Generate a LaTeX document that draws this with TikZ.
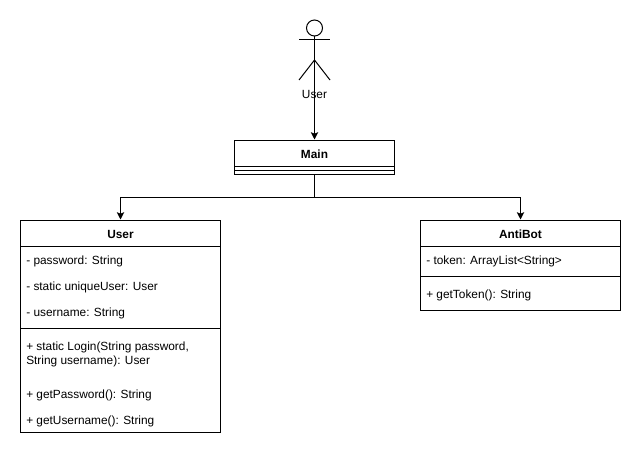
\documentclass[tikz,border=0pt]{standalone}
\usepackage{fontspec}
\setmainfont{Liberation Sans}
\usetikzlibrary{arrows.meta}
\tikzset{
  classpart/.style={draw,line width=0.75pt,inner sep=0pt,minimum width=150pt},
  classrow/.style={anchor=west,inner sep=0pt,text height=9.5pt,text depth=2pt},
  classname/.style={inner sep=0pt,font=\fontsize{8.9pt}{10.5pt}\selectfont\bfseries,text height=9.5pt,text depth=2pt},
  connector/.style={line width=0.75pt,-{Stealth[length=5.5pt,width=5.5pt,inset=1.2pt]}},
}
\begin{document}
\begin{tikzpicture}[x=0.75pt,y=-0.75pt,font=\fontsize{8.9pt}{10.5pt}\selectfont]
\useasboundingbox (0,0) rectangle (641,456);
% actor
\node[draw,circle,line width=0.75pt,inner sep=0pt,minimum size=12pt] (head) at (314.5,28) {};
\coordinate (neck) at (314.5,40);
\coordinate (hip) at (314.5,60);
\coordinate (armleft) at (299,40);
\coordinate (armright) at (330,40);
\coordinate (footleft) at (299,80);
\coordinate (footright) at (330,80);
\draw[line width=0.75pt] (head) -- (hip);
\draw[line width=0.75pt] (armleft) -- (armright);
\draw[line width=0.75pt] (footleft) -- (hip) -- (footright);
\node[inner sep=0pt,text height=9.5pt,text depth=2pt] (userlabel) at (314.5,93.5) {User};
% Main
\node[classpart,minimum width=120pt,minimum height=19.5pt] (mainhead) at (314.5,153) {};
\node[classname] (maintitle) at (314.5,153) {Main};
\node[classpart,minimum width=120pt,minimum height=3pt] (mainattr) at (314.5,168) {};
\node[classpart,minimum width=120pt,minimum height=3pt] (mainop) at (314.5,172) {};
% User
\node[classpart,minimum height=19.5pt] (userhead) at (120.5,233) {};
\node[classname] (usertitle) at (120.5,233) {User};
\node[classpart,minimum height=61.5pt] (userattr) at (120.5,287) {};
\node[classpart,minimum height=78pt] (userop) at (120.5,380) {};
\node[classrow] (password) at (26,259.5) {- password: String};
\node[classrow] (unique) at (26,285.5) {- static uniqueUser: User};
\node[classrow] (username) at (26,311.5) {- username: String};
\node[classrow] (loginone) at (26,345.5) {+ static Login(String password,};
\node[classrow] (logintwo) at (26,359.5) {String username): User};
\node[classrow] (getpassword) at (26,393.5) {+ getPassword(): String};
\node[classrow] (getusername) at (26,419.5) {+ getUsername(): String};
% AntiBot
\node[classpart,minimum height=19.5pt] (antibothead) at (520.5,233) {};
\node[classname] (antibottitle) at (520.5,233) {AntiBot};
\node[classpart,minimum height=22.5pt] (antibotattr) at (520.5,261) {};
\node[classpart,minimum height=25.5pt] (antibotop) at (520.5,293) {};
\node[classrow] (token) at (426,259) {- token: ArrayList<String>};
\node[classrow] (gettoken) at (426,293.5) {+ getToken(): String};
% connectors
\coordinate (branch) at (314.5,197);
\draw[connector] (hip) -- (mainhead);
\draw[connector] (mainop.south) -- (branch) -| (userhead.north);
\draw[connector] (mainop.south) -- (branch) -| (antibothead.north);
\end{tikzpicture}
\end{document}
